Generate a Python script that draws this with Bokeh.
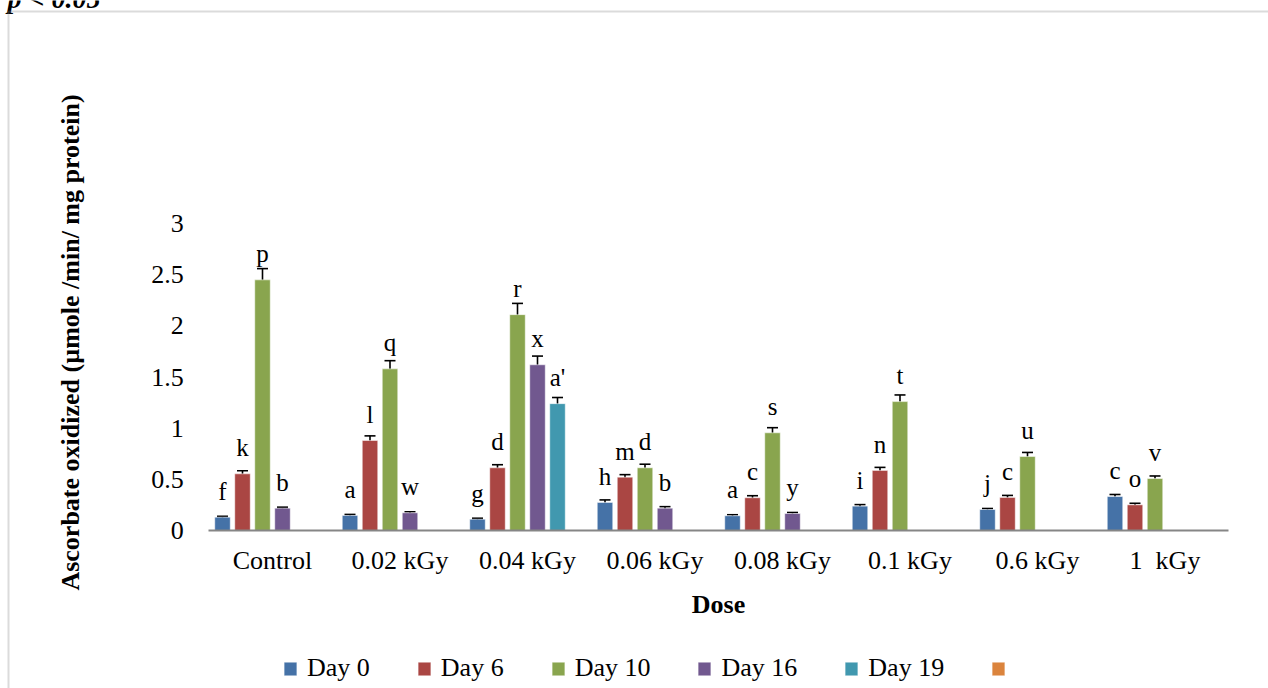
import math

from bokeh.core.properties import value
from bokeh.embed import file_html
from bokeh.models import (BoxAnnotation, ColumnDataSource, FixedTicker, Label, Legend,
                          LegendItem, NumeralTickFormatter, Range1d, TeeHead, Whisker)
from bokeh.plotting import figure
from bokeh.resources import INLINE
from bokeh.transform import dodge

# ---------------------------------------------------------------- data
doses = ["Control", "0.02 kGy", "0.04 kGy", "0.06 kGy", "0.08 kGy",
         "0.1 kGy", "0.6 kGy", "1\u00a0 kGy"]

series_names = ["Day 0", "Day 6", "Day 10", "Day 16", "Day 19", "\u00a0"]

day0 = [0.130, 0.147, 0.110, 0.274, 0.144, 0.238, 0.205, 0.332]
day6 = [0.554, 0.880, 0.613, 0.521, 0.320, 0.587, 0.323, 0.251]
day10 = [2.450, 1.580, 2.110, 0.613, 0.955, 1.260, 0.723, 0.508]
day16 = [0.218, 0.173, 1.620, 0.218, 0.166, None, None, None]
day19 = [None, None, 1.240, None, None, None, None, None]
extra = [None] * 8

err0 = [0.010, 0.010, 0.010, 0.025, 0.010, 0.015, 0.010, 0.020]
err6 = [0.030, 0.045, 0.030, 0.025, 0.020, 0.030, 0.020, 0.015]
err10 = [0.110, 0.080, 0.110, 0.035, 0.050, 0.065, 0.040, 0.025]
err16 = [0.010, 0.010, 0.085, 0.015, 0.010, None, None, None]
err19 = [None, None, 0.060, None, None, None, None, None]
err_extra = [None] * 8

let0 = ["f", "a", "g", "h", "a", "i", "j", "c"]
let6 = ["k", "l", "d", "m", "c", "n", "c", "o"]
let10 = ["p", "q", "r", "d", "s", "t", "u", "v"]
let16 = ["b", "w", "x", "b", "y", "", "", ""]
let19 = ["", "", "a'", "", "", "", "", ""]
let_extra = [""] * 8

y_ticks = [0, 0.5, 1, 1.5, 2, 2.5, 3]

series_values = [day0, day6, day10, day16, day19, extra]
series_errors = [err0, err6, err10, err16, err19, err_extra]
series_letters = [let0, let6, let10, let16, let19, let_extra]
colors = ["#4572A7", "#AA4643", "#89A54E", "#71588F", "#4198AF", "#DB843D"]

# ---------------------------------------------------------------- layout
SERIF = "Liberation Serif"
W, H = 1268, 688
X0_PX, CAT_PX = 272.0, 127.5      # first category centre, category width
ZERO_PX, UNIT_PX = 530.0, 102.3   # baseline row, pixels per unit
BAR_PITCH = 20.0 / CAT_PX
BAR_WIDTH = 15.5 / CAT_PX
NAN = float("nan")

p = figure(width=W, height=H, output_backend="svg", toolbar_location=None,
           x_range=Range1d(-X0_PX / CAT_PX, (W - X0_PX) / CAT_PX),
           y_range=Range1d(-(H - ZERO_PX) / UNIT_PX, ZERO_PX / UNIT_PX),
           min_border=0, outline_line_color=None, background_fill_color="white",
           border_fill_color="white")
p.grid.visible = False

# x axis sits on the zero line
xa = p.xaxis[0]
xa.fixed_location = 0
xa.bounds = (-0.5, len(doses) - 0.5)
xa.ticker = FixedTicker(ticks=list(range(len(doses))))
xa.major_label_overrides = {i: d for i, d in enumerate(doses)}
xa.major_tick_line_color = None
xa.minor_tick_line_color = None
xa.major_tick_out = 0
xa.major_tick_in = 0
xa.axis_line_color = "#868686"
xa.axis_line_width = 2
xa.major_label_text_font = SERIF
xa.major_label_text_font_size = "26px"
xa.major_label_text_color = "black"
xa.major_label_standoff = 15
xa.axis_label = "Dose"
xa.axis_label_text_font = SERIF
xa.axis_label_text_font_size = "26px"
xa.axis_label_text_font_style = "bold"
xa.axis_label_text_color = "black"
xa.axis_label_standoff = 12

# y axis: labels only
ya = p.yaxis[0]
ya.fixed_location = -0.5
ya.bounds = (0, 3)
ya.ticker = FixedTicker(ticks=y_ticks)
ya.formatter = NumeralTickFormatter(format="0.[0]")
ya.axis_line_color = None
ya.major_tick_line_color = None
ya.minor_tick_line_color = None
ya.major_tick_out = 0
ya.major_tick_in = 0
ya.major_label_text_font = SERIF
ya.major_label_text_font_size = "26px"
ya.major_label_text_color = "black"
ya.major_label_standoff = 25

# ---------------------------------------------------------------- bars
legend_items = []
n = len(series_names)
for k, (name, vals, errs, lets, col) in enumerate(
        zip(series_names, series_values, series_errors, series_letters, colors)):
    off = (k - (n - 1) / 2) * BAR_PITCH
    idx = [i for i, v in enumerate(vals) if v is not None]
    if idx:
        src = ColumnDataSource(dict(
            x=[float(i) for i in idx],
            top=[vals[i] for i in idx],
            up=[vals[i] + errs[i] for i in idx],
            lo=[vals[i] - errs[i] for i in idx],
            lab=[lets[i] for i in idx],
        ))
    else:
        # series without any measured value: keep its slots empty
        src = ColumnDataSource(dict(x=[float(i) for i in range(len(vals))],
                                    top=[NAN] * len(vals)))
    r = p.vbar(x=dodge("x", off), top="top", bottom=0, width=BAR_WIDTH, source=src,
               fill_color=col, line_color="white", line_alpha=0.5, line_width=1)
    legend_items.append(LegendItem(label=value(name), renderers=[r], index=0))
    if not idx:
        continue
    wh = Whisker(source=src, base=dodge("x", off), upper="up", lower="lo",
                 line_color="black", line_width=1.6,
                 upper_head=TeeHead(size=11, line_width=1.6, line_color="black"),
                 lower_head=TeeHead(size=11, line_width=1.6, line_color="black"))
    p.add_layout(wh)
    p.text(x=dodge("x", off), y="top", text="lab", source=src,
           text_align="center", text_baseline="alphabetic", y_offset=-26,
           text_font=value(SERIF), text_font_size="25px", text_color="black")

# ---------------------------------------------------------------- titles & frame
p.add_layout(Label(x=(70 - X0_PX) / CAT_PX, y=(ZERO_PX - 342) / UNIT_PX,
                   text="Ascorbate oxidized (\u00b5mole /min/ mg protein)",
                   angle=math.pi / 2, text_align="center", text_baseline="middle",
                   text_font=SERIF, text_font_size="26px", text_font_style="bold",
                   text_color="black"))

p.add_layout(Label(x=7, y=H + 2, x_units="screen", y_units="screen",
                   text="p < 0.05", text_baseline="alphabetic",
                   text_font=SERIF, text_font_size="28px",
                   text_font_style="bold italic", text_color="black"))

p.add_layout(BoxAnnotation(left=8, right=W + 40, top=H - 11, bottom=-40,
                           left_units="screen", right_units="screen",
                           top_units="screen", bottom_units="screen",
                           fill_color=None, fill_alpha=0,
                           line_color="#888888", line_width=2))

legend = Legend(items=legend_items, orientation="horizontal", location=(282, 5),
                padding=0, margin=0, spacing=46, glyph_width=16, glyph_height=17,
                label_standoff=9, label_text_font=SERIF, label_text_font_size="26px",
                label_text_color="black", border_line_color=None,
                background_fill_alpha=0)
p.add_layout(legend)

open("out.html", "w").write(file_html(p, INLINE))
